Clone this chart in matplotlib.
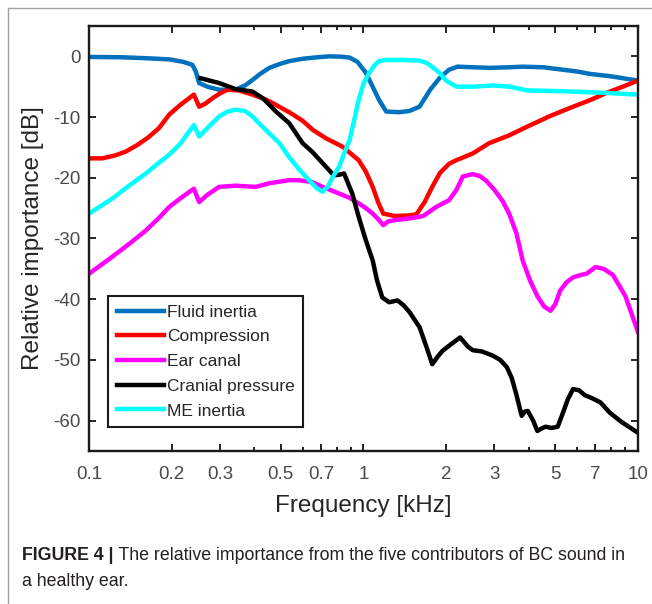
import numpy as np
import matplotlib
matplotlib.use('Agg')
import matplotlib.pyplot as plt
from matplotlib import font_manager
from matplotlib.ticker import FixedLocator, FixedFormatter, NullFormatter
from matplotlib.lines import Line2D

plt.rcParams['font.family'] = ['Liberation Sans', 'DejaVu Sans']
plt.rcParams['axes.unicode_minus'] = False

# ---- data (frequency in kHz, relative importance in dB) ----
fluid_f = [0.1, 0.13, 0.16, 0.196, 0.22, 0.238, 0.245, 0.252, 0.27, 0.298, 0.342, 0.37, 0.394, 0.42,
           0.454, 0.5, 0.536, 0.6, 0.68, 0.75, 0.82, 0.89, 0.95, 1.02, 1.08, 1.14, 1.21, 1.35, 1.47,
           1.6, 1.75, 1.9, 2.05, 2.2, 2.5, 2.9, 3.4, 3.8, 4.5, 5.1, 6.0, 6.7, 8.0, 10]
fluid_db = [-0.1, -0.15, -0.3, -0.5, -0.9, -1.4, -2.5, -4.4, -5.0, -5.5, -5.5, -4.8, -3.9, -2.9,
            -1.9, -1.2, -0.8, -0.4, -0.15, 0.0, -0.05, -0.2, -0.9, -2.7, -5.0, -7.2, -9.1, -9.2, -9.0,
            -8.3, -5.5, -3.5, -2.2, -1.7, -1.8, -1.9, -1.8, -1.7, -1.8, -2.1, -2.5, -2.9, -3.3, -4.0]

comp_f = [0.1, 0.112, 0.125, 0.136, 0.15, 0.165, 0.18, 0.196, 0.215, 0.23, 0.241, 0.252, 0.265, 0.282,
          0.3, 0.32, 0.35, 0.394, 0.44, 0.48, 0.536, 0.6, 0.653, 0.73, 0.84, 0.96, 1.02, 1.08, 1.13,
          1.18, 1.3, 1.47, 1.56, 1.67, 1.78, 1.9, 2.05, 2.18, 2.5, 2.87, 3.4, 3.94, 4.8, 5.8, 6.7,
          7.7, 8.8, 10]
comp_db = [-16.8, -16.8, -16.3, -15.7, -14.6, -13.3, -11.8, -9.6, -8.0, -7.0, -6.3, -8.3, -7.8, -6.9,
           -6.1, -5.5, -5.6, -6.3, -7.1, -8.0, -9.2, -10.6, -12.1, -13.5, -14.9, -17.1, -19.0, -21.5,
           -24.0, -25.9, -26.3, -26.2, -26.0, -24.0, -21.5, -19.2, -17.7, -17.1, -16.0, -14.3, -13.0,
           -11.6, -9.8, -8.3, -7.2, -6.0, -5.0, -4.0]

ear_f = [0.1, 0.12, 0.14, 0.16, 0.18, 0.196, 0.215, 0.241, 0.252, 0.27, 0.298, 0.342, 0.405, 0.454,
         0.536, 0.58, 0.65, 0.71, 0.815, 0.89, 0.96, 1.02, 1.08, 1.13, 1.18, 1.23, 1.29, 1.47, 1.65,
         1.84, 2.05, 2.18, 2.3, 2.5, 2.65, 2.8, 3.0, 3.22, 3.4, 3.61, 3.8, 4.05, 4.3, 4.55, 4.8, 5.0,
         5.2, 5.5, 5.8, 6.2, 6.5, 7.0, 7.5, 8.1, 9.0, 10]
ear_db = [-35.8, -33.2, -30.9, -28.8, -26.6, -24.8, -23.4, -21.8, -24.0, -22.8, -21.5, -21.3, -21.5,
          -20.9, -20.4, -20.4, -20.7, -21.5, -22.6, -23.3, -24.2, -25.0, -25.9, -26.8, -27.8, -27.2,
          -27.0, -26.7, -26.3, -24.8, -23.7, -22.0, -19.8, -19.4, -19.7, -20.5, -22.0, -23.9, -26.0,
          -29.2, -33.6, -37.0, -39.5, -41.2, -41.9, -40.8, -38.6, -37.2, -36.4, -36.0, -35.8, -34.7,
          -35.0, -36.0, -39.5, -45.4]

cran_f = [0.255, 0.298, 0.342, 0.394, 0.43, 0.48, 0.536, 0.6, 0.653, 0.71, 0.78, 0.815, 0.85, 0.91,
          0.96, 1.02, 1.08, 1.12, 1.17, 1.24, 1.33, 1.4, 1.47, 1.6, 1.7, 1.78, 1.86, 1.94, 2.1, 2.25,
          2.4, 2.5, 2.7, 2.96, 3.15, 3.33, 3.47, 3.6, 3.77, 3.87, 3.97, 4.15, 4.3, 4.45, 4.6, 4.85,
          5.1, 5.3, 5.55, 5.8, 6.1, 6.4, 6.8, 7.3, 7.9, 8.7, 10]
cran_db = [-3.6, -4.4, -5.4, -5.8, -6.9, -9.1, -11.0, -14.3, -15.8, -17.6, -19.6, -19.5, -19.3, -22.6,
           -26.4, -30.3, -33.6, -36.9, -39.7, -40.5, -40.2, -41.0, -42.1, -44.6, -48.0, -50.7, -49.5,
           -48.5, -47.3, -46.3, -47.8, -48.4, -48.6, -49.3, -50.0, -51.2, -53.0, -55.6, -59.2, -58.5,
           -58.4, -60.0, -61.7, -61.3, -61.0, -61.2, -61.0, -59.0, -56.5, -54.8, -55.0, -55.8, -56.3,
           -57.0, -58.7, -60.2, -62.0]

me_f = [0.1, 0.12, 0.14, 0.16, 0.18, 0.196, 0.215, 0.241, 0.252, 0.27, 0.298, 0.32, 0.342, 0.37,
        0.394, 0.42, 0.454, 0.494, 0.536, 0.58, 0.63, 0.68, 0.709, 0.74, 0.77, 0.815, 0.85, 0.89,
        0.93, 0.96, 1.0, 1.05, 1.1, 1.14, 1.2, 1.4, 1.6, 1.7, 1.8, 1.89, 2.0, 2.18, 2.5, 2.96, 3.4,
        3.94, 4.8, 5.8, 7.5, 10]
me_db = [-25.9, -23.6, -21.3, -19.4, -17.5, -16.2, -14.4, -11.3, -13.2, -11.8, -9.9, -9.1, -8.8, -9.0,
         -9.9, -11.2, -12.7, -14.3, -16.6, -18.5, -20.3, -21.8, -22.3, -21.5, -20.0, -18.2, -16.0,
         -13.8, -10.0, -7.2, -4.5, -2.7, -1.4, -0.8, -0.6, -0.6, -0.7, -1.1, -1.9, -2.7, -4.0, -5.0,
         -5.0, -4.8, -5.0, -5.6, -5.7, -5.8, -6.0, -6.3]

series_names = ['Fluid inertia', 'Compression', 'Ear canal', 'Cranial pressure', 'ME inertia']
series_colors = ['#0072BD', '#FF0000', '#FF00FF', '#000000', '#00FFFF']

xticks = [0.1, 0.2, 0.3, 0.5, 0.7, 1, 2, 3, 5, 7, 10]
xticklabels = ['0.1', '0.2', '0.3', '0.5', '0.7', '1', '2', '3', '5', '7', '10']
xminor = [0.4, 0.6, 0.8, 0.9, 4, 6, 8, 9]
yticks = [0, -10, -20, -30, -40, -50, -60]

# ---- figure ----
fig = plt.figure(figsize=(6.52, 6.04), dpi=100)
ax = fig.add_axes([0.1365, 0.2533, 0.842, 0.7037])

data = [(fluid_f, fluid_db), (comp_f, comp_db), (ear_f, ear_db), (cran_f, cran_db), (me_f, me_db)]
for (f, db), name, col in zip(data, series_names, series_colors):
    ax.plot(f, db, color=col, lw=3.2, label=name, solid_joinstyle='round')

ax.set_xscale('log')
ax.set_xlim(0.1, 10)
ax.set_ylim(-65, 5)
ax.xaxis.set_major_locator(FixedLocator(xticks))
ax.xaxis.set_major_formatter(FixedFormatter(xticklabels))
ax.xaxis.set_minor_locator(FixedLocator(xminor))
ax.xaxis.set_minor_formatter(NullFormatter())
ax.set_yticks(yticks)
ax.set_yticklabels([str(v) for v in yticks])

ax.tick_params(which='both', direction='in', top=True, right=True, width=1.2,
               labelsize=13.5, labelcolor='#4a4a4a')
ax.tick_params(which='major', length=5)
ax.tick_params(which='minor', length=3)
ax.tick_params(axis='x', pad=10.5)
ax.tick_params(axis='y', pad=6)
for s in ax.spines.values():
    s.set_linewidth(1.7)
    s.set_color('#1a1a1a')

ax.set_xlabel('Frequency [kHz]', fontsize=17.5, color='#262626')
ax.set_ylabel('Relative importance [dB]', fontsize=17.5, color='#262626')
ax.xaxis.set_label_coords(0.5, -0.1036)
ax.yaxis.set_label_coords(-0.082, 0.5)

leg = ax.legend(loc='upper left', bbox_to_anchor=(0.0346, 0.365), borderaxespad=0,
                fontsize=12.5, handlelength=2.75, handletextpad=0.15, labelspacing=0.55,
                borderpad=0.5, fancybox=False, framealpha=1)
leg.get_frame().set_edgecolor('#1a1a1a')
leg.get_frame().set_linewidth(1.5)
for t in leg.get_texts():
    t.set_color('#262626')

# outer frame of the figure panel
fig.add_artist(Line2D([8 / 652, 1], [1 - 8 / 604, 1 - 8 / 604], color='#a0a0a0', lw=1,
                      transform=fig.transFigure))
fig.add_artist(Line2D([8 / 652, 8 / 652], [0, 1 - 8 / 604], color='#a0a0a0', lw=1,
                      transform=fig.transFigure))

# caption
names = {f.name for f in font_manager.fontManager.ttflist}
cap_family = 'Liberation Sans Narrow' if 'Liberation Sans Narrow' in names else 'Liberation Sans'
cap_size = 12.4 if cap_family == 'Liberation Sans Narrow' else 12.8
y1 = 1 - 556 / 604
y2 = 1 - 581 / 604
bold = fig.text(22 / 652, y1, 'FIGURE 4 |', fontsize=cap_size, fontweight='bold',
                family=cap_family, color='#231f20', va='center')
fig.canvas.draw()
bb = bold.get_window_extent(renderer=fig.canvas.get_renderer())
fig.text(bb.x1 / fig.bbox.width, y1,
         ' The relative importance from the five contributors of BC sound in',
         fontsize=cap_size, family=cap_family, color='#231f20', va='center')
fig.text(22 / 652, y2, 'a healthy ear.', fontsize=cap_size, family=cap_family,
         color='#231f20', va='center')

fig.savefig('out.png', dpi=100)
